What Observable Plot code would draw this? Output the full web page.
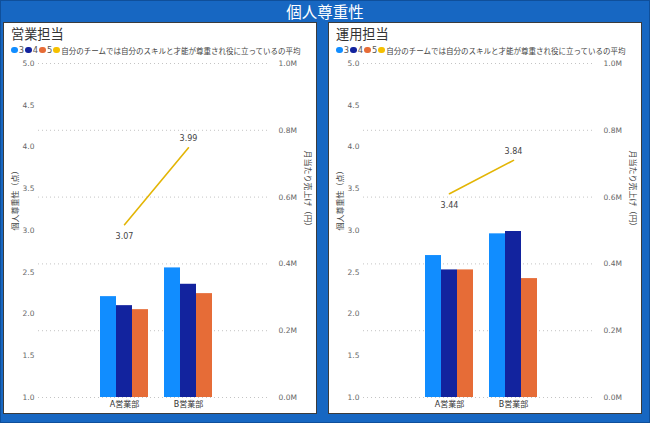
<!DOCTYPE html>
<html>
<head>
<meta charset="utf-8">
<script src="https://cdn.jsdelivr.net/npm/d3@7"></script>
<script src="https://cdn.jsdelivr.net/npm/@observablehq/plot@0.6"></script>
<style>
  html, body { margin: 0; padding: 0; }
  body { width: 650px; height: 423px; background: #1767c2; position: relative; overflow: hidden;
         font-family: "DejaVu Sans", "Noto Sans CJK JP", sans-serif; }
  #frame { position: absolute; left: 0; top: 0; width: 648px; height: 421px; border: 1px solid #0f4f9a; }
  #title { position: absolute; left: 0; top: 0; width: 650px; height: 22px; line-height: 22px; text-align: center;
           color: #fff; font-family: "Noto Sans CJK JP", sans-serif; font-size: 15.5px; }
  .panel { position: absolute; top: 22px; width: 312px; height: 390px; background: #fff; border: 1px solid #3b3b3b; }
  .ptitle { position: absolute; left: 7px; top: 1px; font-family: "Noto Sans CJK JP", sans-serif; font-size: 13.2px; color: #333; }
  .legend { position: absolute; left: 7px; top: 21px; font-family: "Noto Sans CJK JP", sans-serif; font-size: 7.5px; color: #444;
            white-space: nowrap; display: flex; align-items: center; height: 12px; }
  .dot { display: inline-block; width: 6.5px; height: 6.5px; border-radius: 50%; margin-right: 1.2px; }
  .lbl { margin-right: 1.2px; font-family: "DejaVu Sans", sans-serif; font-size: 8.3px; color: #555; }
</style>
</head>
<body>
<div id="frame"></div>
<div id="title"></div>
<div class="panel" id="p1" style="left:3px"></div>
<div class="panel" id="p2" style="left:328px"></div>
<script>
// ---- data ----
const pageTitle = "個人尊重性";
const panelTitles = ["営業担当", "運用担当"];
const depts = ["A営業部", "B営業部"];
const seriesNames = ["3", "4", "5"];
const seriesColors = ["#118DFF", "#12239E", "#E66C37"];
const lineName = "自分のチームでは自分のスキルと才能が尊重され役に立っているの平均";
const lineColor = "#E3B505";
const leftAxisTitle = "個人尊重性（点）";
const rightAxisTitle = "月当たり売上げ（円）";
// monthly sales (million yen), order: A-3, A-4, A-5, B-3, B-4, B-5
const eigyoSales = [0.302, 0.275, 0.263, 0.388, 0.339, 0.311];
const unyoSales = [0.425, 0.382, 0.382, 0.490, 0.497, 0.356];
// average score per department
const eigyoScore = [3.07, 3.99];
const unyoScore = [3.44, 3.84];
// tick labels
const leftTicks = [1.0, 1.5, 2.0, 2.5, 3.0, 3.5, 4.0, 4.5, 5.0];
const rightTicks = [0, 0.2, 0.4, 0.6, 0.8, 1.0];
const leftDomain = [1, 5];
const rightDomain = [0, 1]; // million

document.getElementById("title").textContent = pageTitle;

const M = 1e6;
const toRight = s => (s - leftDomain[0]) / (leftDomain[1] - leftDomain[0]) * (rightDomain[1] - rightDomain[0]) * M;
const fromRight = v => v / M / (rightDomain[1] - rightDomain[0]) * (leftDomain[1] - leftDomain[0]) + leftDomain[0];
const key = (d, s) => d + "|" + s;
const spacer = "_gap_";
const xDomain = [...seriesNames.map(s => key(depts[0], s)), spacer, ...seriesNames.map(s => key(depts[1], s))];
const midKey = d => key(d, seriesNames[1]);

function buildPanel(el, title, sales, scores) {
  const t = document.createElement("div"); t.className = "ptitle"; t.textContent = title; el.appendChild(t);
  const lg = document.createElement("div"); lg.className = "legend";
  seriesNames.forEach((s, i) => {
    const dot = document.createElement("span"); dot.className = "dot"; dot.style.background = seriesColors[i]; lg.appendChild(dot);
    const l = document.createElement("span"); l.className = "lbl"; l.textContent = s; lg.appendChild(l);
  });
  const dot = document.createElement("span"); dot.className = "dot"; dot.style.background = "#F5C000"; lg.appendChild(dot);
  const l = document.createElement("span"); l.textContent = lineName; lg.appendChild(l);
  el.appendChild(lg);

  const bars = sales.map((v, i) => ({
    key: key(depts[Math.floor(i / 3)], seriesNames[i % 3]),
    series: seriesNames[i % 3],
    value: v * M
  }));
  const line = scores.map((s, i) => ({ key: midKey(depts[i]), score: s, y: toRight(s), first: i === 0 }));

  const chart = Plot.plot({
    width: 312,
    height: 356,
    marginLeft: 34,
    marginRight: 47,
    marginTop: 6,
    marginBottom: 16,
    style: { fontFamily: "'DejaVu Sans', 'Noto Sans CJK JP', sans-serif", fontSize: "7.5px", color: "#666", background: "transparent", overflow: "visible" },
    x: { domain: xDomain, paddingInner: 0, paddingOuter: 3.43, align: 0.525, axis: null },
    y: { domain: rightDomain.map(d => d * M), axis: null },
    color: { domain: seriesNames, range: seriesColors },
    marks: [
      Plot.gridY(rightTicks.map(t => t * M), { stroke: "#b5b5b5", strokeOpacity: 0.8, strokeDasharray: "1,3" }),
      Plot.barY(bars, { x: "key", y: "value", fill: "series" }),
      Plot.line(line, { x: "key", y: "y", stroke: lineColor, strokeWidth: 1.6 }),
      Plot.text(line.filter(d => d.first), { x: "key", y: "y", text: d => d.score.toFixed(2), dy: 12, fill: "#444", fontSize: 8 }),
      Plot.text(line.filter(d => !d.first), { x: "key", y: "y", text: d => d.score.toFixed(2), dy: -9, fill: "#444", fontSize: 8 }),
      Plot.axisY(leftTicks.map(toRight), { anchor: "left", tickSize: 0, tickPadding: 4, tickFormat: d => fromRight(d).toFixed(1), label: null }),
      Plot.axisY(rightTicks.map(t => t * M), { anchor: "right", tickSize: 0, tickPadding: 9, tickFormat: d => (d / M).toFixed(1) + "M", label: null }),
      Plot.axisX(depts.map(midKey), { tickSize: 0, tickPadding: 4, tickFormat: d => d.split("|")[0], label: null, fill: "#333", fontSize: 8 }),
      Plot.text([leftAxisTitle], { frameAnchor: "left", dx: -23, rotate: -90, fill: "#444", fontSize: 8 }),
      Plot.text([rightAxisTitle], { frameAnchor: "right", dx: 38, rotate: 90, fill: "#444", fontSize: 8 })
    ]
  });
  chart.style.position = "absolute";
  chart.style.left = "0px";
  chart.style.top = "34px";
  el.appendChild(chart);
}

buildPanel(document.getElementById("p1"), panelTitles[0], eigyoSales, eigyoScore);
buildPanel(document.getElementById("p2"), panelTitles[1], unyoSales, unyoScore);
</script>
</body>
</html>
